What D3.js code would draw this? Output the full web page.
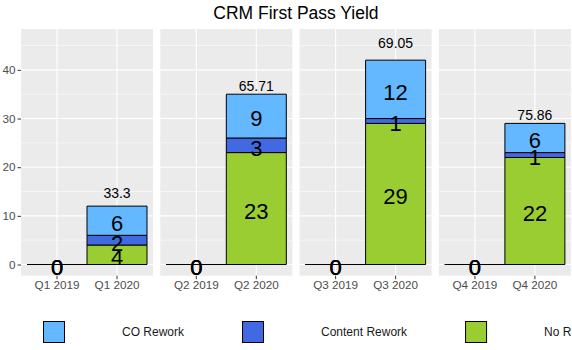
<!DOCTYPE html>
<html>
<head>
<meta charset="utf-8">
<script src="https://cdn.jsdelivr.net/npm/d3@7"></script>
<style>
  body { margin: 0; background: #fff; }
  svg { font-family: "Liberation Sans", Arial, sans-serif; }
</style>
</head>
<body>
<div id="chart"></div>
<script>
// data
var panels = ["Q1", "Q2", "Q3", "Q4"];
var periods = [["Q1 2019", "Q1 2020"], ["Q2 2019", "Q2 2020"], ["Q3 2019", "Q3 2020"], ["Q4 2019", "Q4 2020"]];
var noRework = [[0, 4], [0, 23], [0, 29], [0, 22]];
var contentRework = [[0, 2], [0, 3], [0, 1], [0, 1]];
var coRework = [[0, 6], [0, 9], [0, 12], [0, 6]];
var yieldLabels = ["33.3", "65.71", "69.05", "75.86"];
var yieldLabelY = [14.8, 36.7, 45.6, 30.7];
var yTicks = [0, 10, 20, 30, 40];
var yMinor = [5, 15, 25, 35, 45];

var keys = ["No Rework", "Content Rework", "CO Rework"];
var legendKeys = ["CO Rework", "Content Rework", "No Rework"];
var colors = { "CO Rework": "#63B8FF", "Content Rework": "#4169E1", "No Rework": "#9ACD32" };

var width = 572, height = 350;
var panelLeft = 21, panelW = 132, panelStep = 139.3;
var panelTop = 29, panelBottom = 275.7;

var svg = d3.select("#chart").append("svg")
  .attr("width", width)
  .attr("height", height);

var y = d3.scaleLinear()
  .domain([-2.3, 48.4])
  .range([panelBottom, panelTop]);

svg.append("text")
  .attr("x", panelLeft + (panelStep * 3 + panelW) / 2)
  .attr("y", 19)
  .attr("text-anchor", "middle")
  .style("font-size", "17.5px")
  .attr("fill", "#000")
  .text("CRM First Pass Yield");

panels.forEach(function(p, i)
{
  var g = svg.append("g")
    .attr("transform", "translate(" + (panelLeft + i * panelStep) + ",0)");

  var x = d3.scaleBand()
    .domain(periods[i])
    .range([0, panelW])
    .paddingInner(0)
    .paddingOuter(0.1);

  g.append("rect")
    .attr("x", 0)
    .attr("y", panelTop)
    .attr("width", panelW)
    .attr("height", panelBottom - panelTop)
    .attr("fill", "#EBEBEB");

  g.selectAll(".minor")
    .data(yMinor)
    .enter().append("line")
    .attr("x1", 0).attr("x2", panelW)
    .attr("y1", function(d) { return y(d); })
    .attr("y2", function(d) { return y(d); })
    .attr("stroke", "#fff")
    .attr("stroke-width", 0.55);

  g.selectAll(".major")
    .data(yTicks)
    .enter().append("line")
    .attr("x1", 0).attr("x2", panelW)
    .attr("y1", function(d) { return y(d); })
    .attr("y2", function(d) { return y(d); })
    .attr("stroke", "#fff")
    .attr("stroke-width", 1.1);

  g.selectAll(".vgrid")
    .data(periods[i])
    .enter().append("line")
    .attr("x1", function(d) { return x(d) + x.bandwidth() / 2; })
    .attr("x2", function(d) { return x(d) + x.bandwidth() / 2; })
    .attr("y1", panelTop).attr("y2", panelBottom)
    .attr("stroke", "#fff")
    .attr("stroke-width", 1.1);

  var rows = periods[i].map(function(d, j)
  {
    return {
      period: d,
      "No Rework": noRework[i][j],
      "Content Rework": contentRework[i][j],
      "CO Rework": coRework[i][j]
    };
  });

  var series = d3.stack().keys(keys)(rows);

  series.forEach(function(s)
  {
    g.selectAll(null)
      .data(s)
      .enter().append("path")
      .attr("d", function(d)
      {
        var x0 = x(d.data.period), x1 = x0 + x.bandwidth();
        return "M" + x0 + "," + y(d[0]) + "H" + x1 + "V" + y(d[1]) + "H" + x0 + "Z";
      })
      .attr("fill", colors[s.key])
      .attr("stroke", "#000")
      .attr("stroke-width", 1);
  });

  series.forEach(function(s)
  {
    g.selectAll(null)
      .data(s)
      .enter().append("text")
      .attr("x", function(d) { return x(d.data.period) + x.bandwidth() / 2; })
      .attr("y", function(d) { return y((d[0] + d[1]) / 2); })
      .attr("dy", "0.47em")
      .attr("text-anchor", "middle")
      .style("font-size", "22px")
      .attr("fill", "#000")
      .text(function(d) { return d.data[s.key]; });
  });

  g.append("text")
    .attr("x", x(periods[i][1]) + x.bandwidth() / 2)
    .attr("y", y(yieldLabelY[i]))
    .attr("dy", "0.36em")
    .attr("text-anchor", "middle")
    .style("font-size", "14px")
    .attr("fill", "#000")
    .text(yieldLabels[i]);

  var xAxis = g.append("g")
    .attr("transform", "translate(0," + panelBottom + ")")
    .call(d3.axisBottom(x).tickSize(3.5).tickPadding(2));
  xAxis.select(".domain").remove();
  xAxis.selectAll("line").attr("stroke", "#333");
  xAxis.selectAll("text")
    .attr("fill", "#4D4D4D")
    .style("font-size", "11.7px")
    .style("font-family", "Liberation Sans, Arial, sans-serif");

  if (i == 0)
  {
    var yAxis = g.append("g")
      .call(d3.axisLeft(y).tickValues(yTicks).tickSize(3.5).tickPadding(2));
    yAxis.select(".domain").remove();
    yAxis.selectAll("line").attr("stroke", "#333");
    yAxis.selectAll("text")
      .attr("fill", "#4D4D4D")
      .style("font-size", "11.7px")
      .style("font-family", "Liberation Sans, Arial, sans-serif");
  }
});

// legend along the bottom
var legend = svg.append("g").attr("transform", "translate(43,321)");
var lx = 0;
legendKeys.forEach(function(k)
{
  legend.append("rect")
    .attr("x", lx + 0.5)
    .attr("y", 0.5)
    .attr("width", 21)
    .attr("height", 21)
    .attr("fill", colors[k])
    .attr("stroke", "#000")
    .attr("stroke-width", 1);
  var t = legend.append("text")
    .attr("x", lx + 79)
    .attr("y", 11)
    .attr("dy", "0.36em")
    .style("font-size", "12px")
    .attr("fill", "#1A1A1A")
    .text(k);
  lx += 79 + t.node().getComputedTextLength() + 58;
});
</script>
</body>
</html>
